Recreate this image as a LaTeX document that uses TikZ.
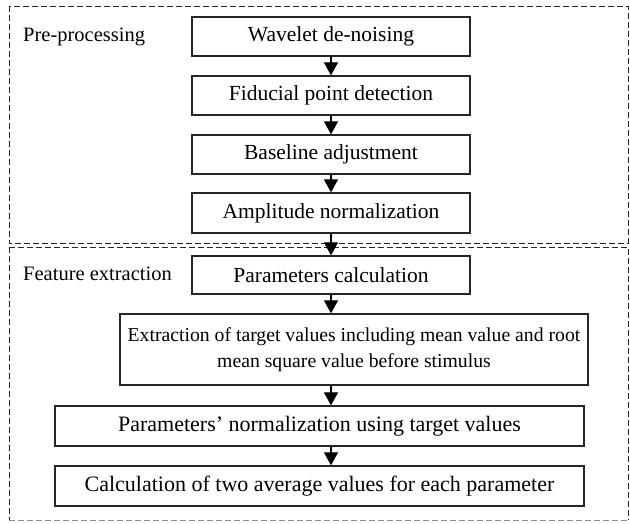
\documentclass[tikz,border=0pt]{standalone}
\usepackage{fontspec}
\setmainfont{Liberation Serif}
\usetikzlibrary{arrows.meta}
\begin{document}
\begin{tikzpicture}[x=1pt,y=-1pt,
  stagebox/.style={draw=black!85,line width=1.3pt,fill=white,inner sep=0pt,
    align=center,font=\fontsize{21.5}{26.5}\selectfont},
  flow/.style={draw=black,line width=1.2pt,-{Triangle[width=14pt,length=13pt]}},
  frame/.style={draw=black!85,line width=1pt,dash pattern=on 6pt off 3pt},
  tag/.style={anchor=base west,inner sep=0pt,font=\fontsize{20.5}{24}\selectfont}]
\useasboundingbox (0,0) rectangle (630,523);

% dashed frames of the two stages
\draw[frame] (9,6) rectangle (628,243);
\draw[frame] (9,247) -- (628,247) -- (628,520);
\draw[frame] (9,247) -- (9,520);
\draw[frame,draw=black!45] (9,520) -- (628,520);

% stage titles
\node[tag] (pre) at (23,41) {Pre-processing};
\node[tag] (fea) at (23,280) {Feature extraction};

% pre-processing steps
\node[stagebox,minimum width=278pt,minimum height=39pt] (wav) at (331,36.5) {Wavelet de-noising};
\node[stagebox,minimum width=278pt,minimum height=39pt] (fid) at (331,95.5) {Fiducial point detection};
\node[stagebox,minimum width=278pt,minimum height=39pt] (bas) at (331,154.5) {Baseline adjustment};
\node[stagebox,minimum width=278pt,minimum height=40pt] (amp) at (331,213) {Amplitude normalization};

% feature extraction steps
\node[stagebox,minimum width=278pt,minimum height=38pt] (pca) at (331,275) {Parameters calculation};
\node[stagebox,minimum width=468pt,minimum height=71pt,font=\fontsize{19.7}{26}\selectfont] (ext) at (354,349.5)
  {Extraction of target values including mean value and root\\mean square value before stimulus};
\node[stagebox,minimum width=529pt,minimum height=40pt,font=\fontsize{22}{26.5}\selectfont] (pno) at (319.5,426) {Parameters’ normalization using target values};
\node[stagebox,minimum width=529pt,minimum height=40pt,font=\fontsize{22}{26.5}\selectfont] (cal) at (319.5,486) {Calculation of two average values for each parameter};

% connectors
\draw[flow] (wav.south) -- (fid.north);
\draw[flow] (fid.south) -- (bas.north);
\draw[flow] (bas.south) -- (amp.north);
\draw[flow] (amp.south) -- (pca.north);
\draw[flow] (pca.south) -- (pca.south |- ext.north);
\draw[flow] (pca.south |- ext.south) -- (pca.south |- pno.north);
\draw[flow] (pca.south |- pno.south) -- (pca.south |- cal.north);
\end{tikzpicture}
\end{document}
